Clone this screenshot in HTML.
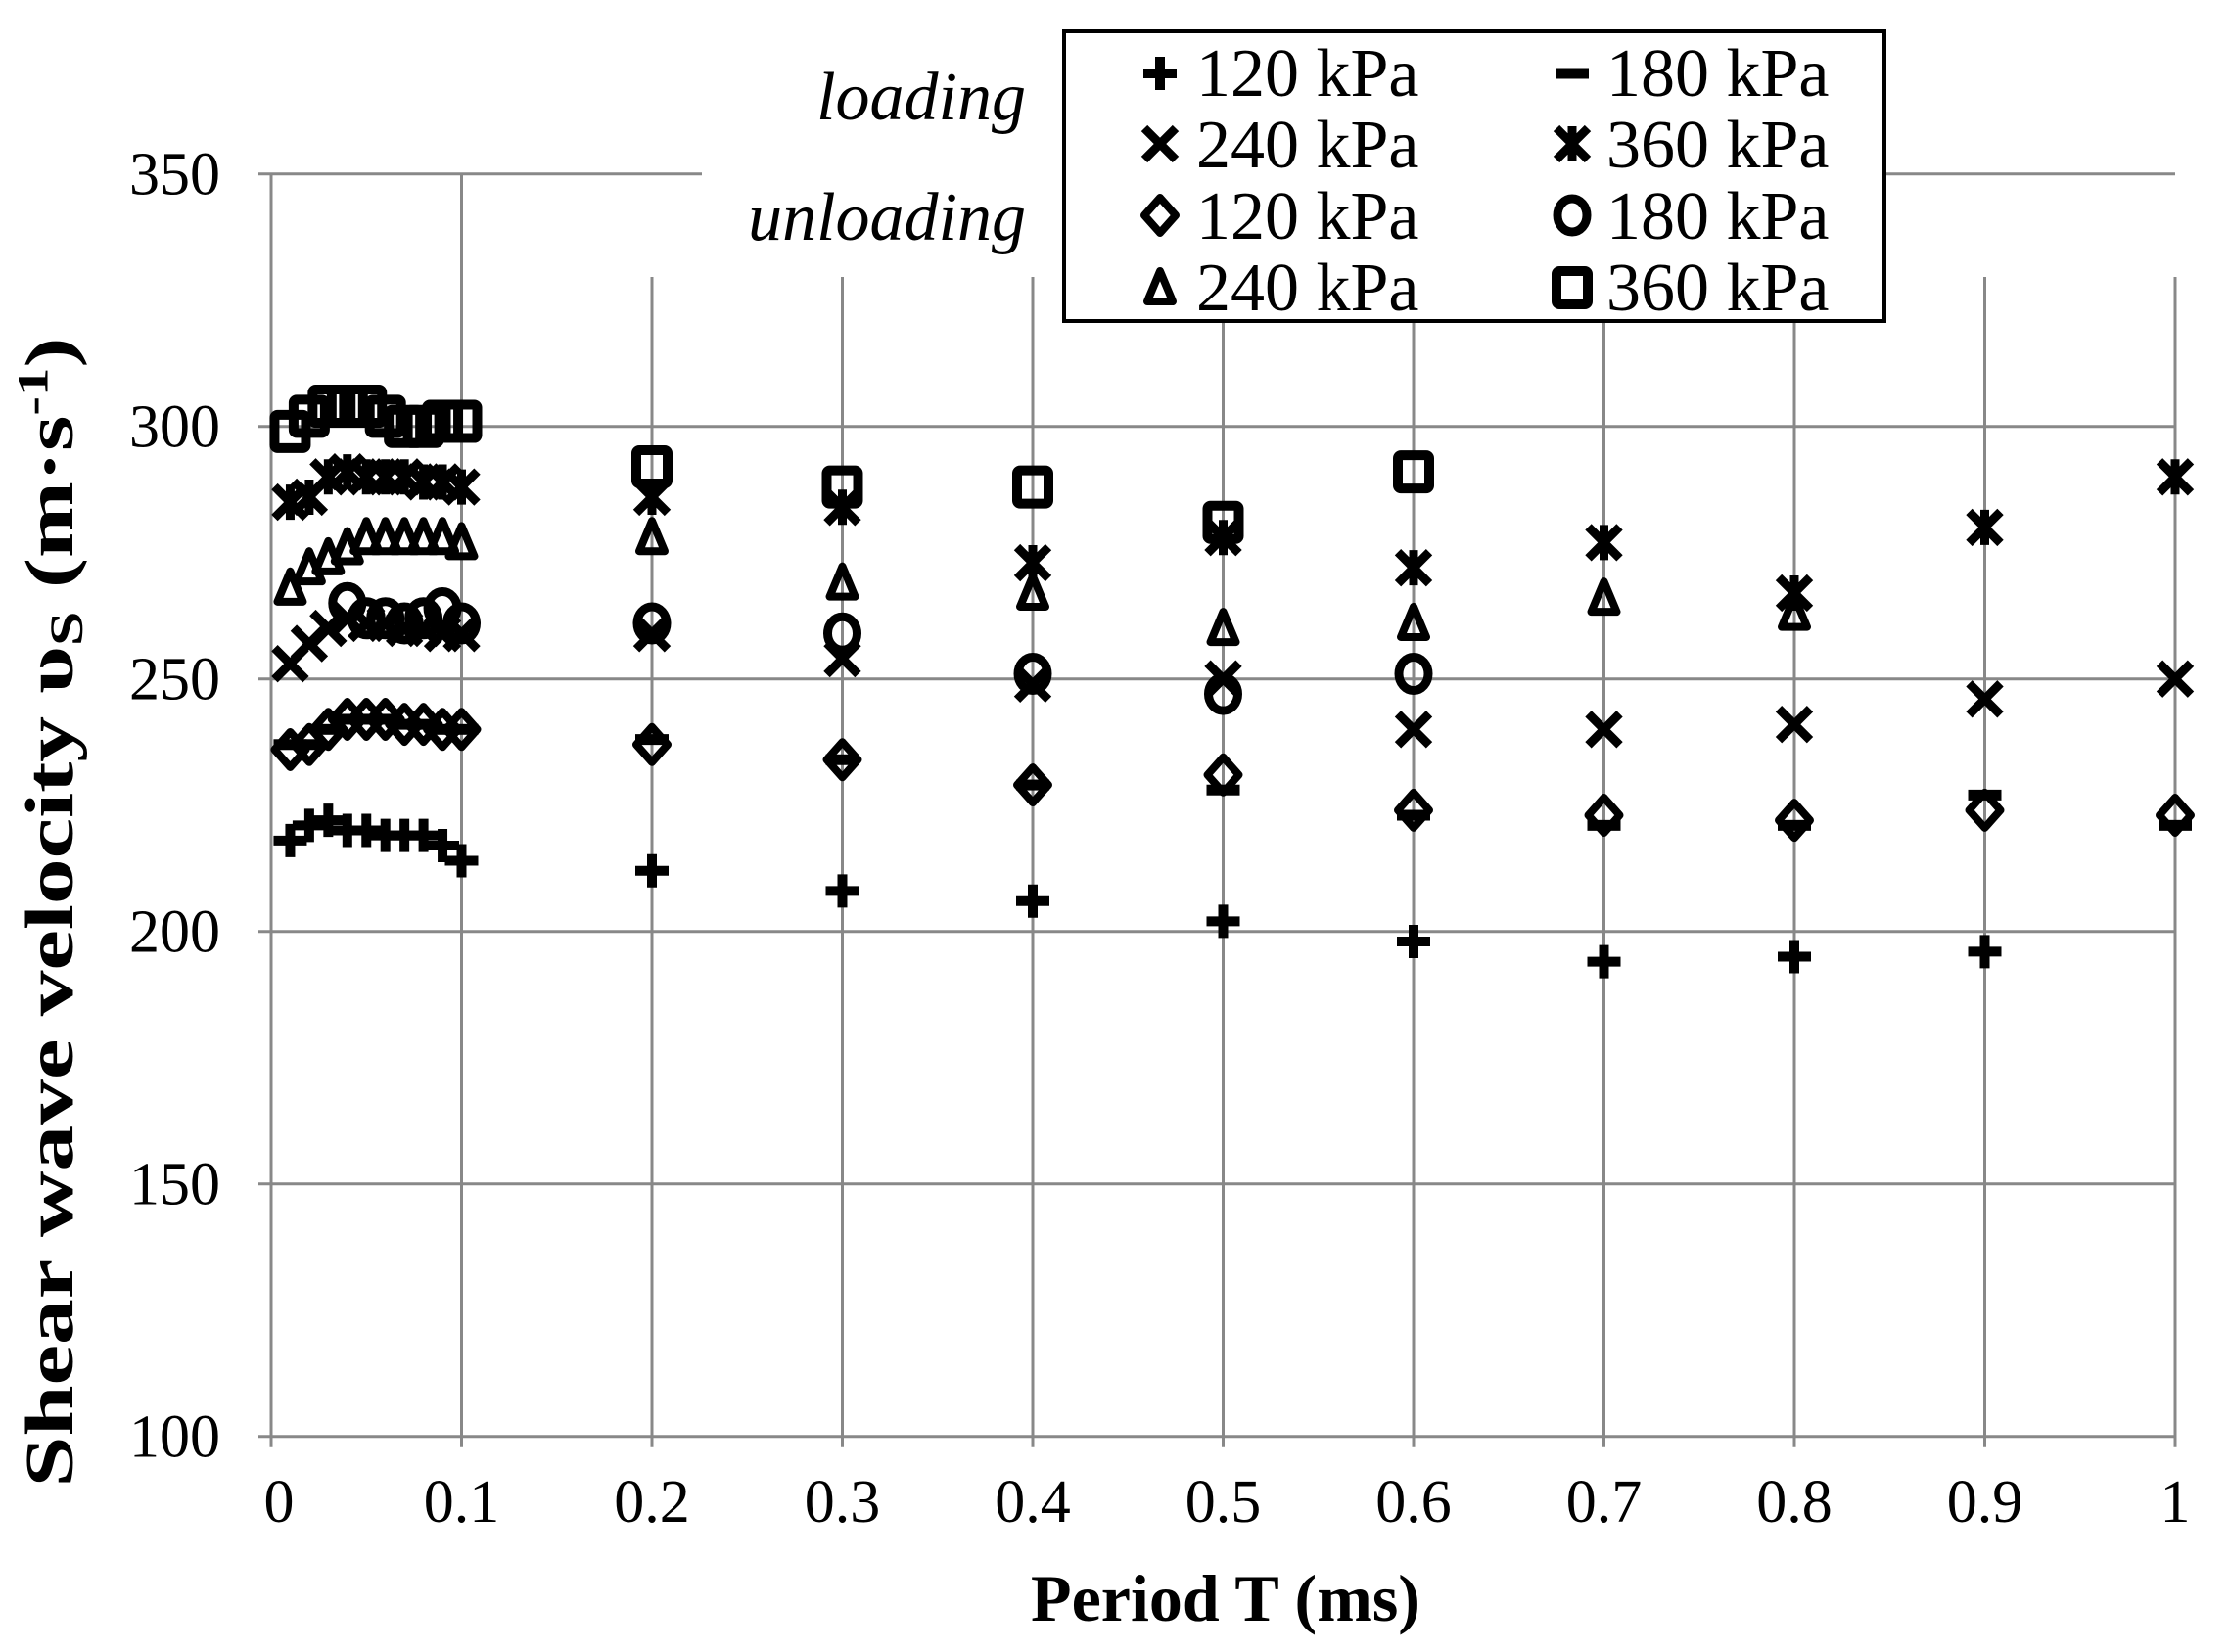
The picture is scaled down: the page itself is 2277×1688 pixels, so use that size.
<!DOCTYPE html>
<html><head><meta charset="utf-8"><style>
html,body{margin:0;padding:0;background:#fff;}
svg{display:block;}
text{font-family:"Liberation Serif",serif;fill:#000;}
</style></head><body>
<svg id="s" width="2277" height="1688" viewBox="0 0 2277 1688" xmlns="http://www.w3.org/2000/svg">
<rect width="2277" height="1688" fill="#fff"/>
<g id="grid" stroke="#888" stroke-width="3" fill="none"></g>
<g id="ticks" font-size="62"></g>
<rect x="717" y="150" width="368" height="133" fill="#fff"/>
<g id="data"></g>
<rect x="1087" y="32" width="838" height="296" fill="#fff" stroke="#000" stroke-width="4"/>
<g id="leg"></g>
<g font-size="70" font-style="italic" text-anchor="end">
<text x="1048" y="122">loading</text>
<text x="1048" y="245">unloading</text>
</g>
<g font-size="70">
<text x="1222" y="98">120 kPa</text>
<text x="1641" y="98">180 kPa</text>
<text x="1222" y="171">240 kPa</text>
<text x="1641" y="171">360 kPa</text>
<text x="1222" y="244">120 kPa</text>
<text x="1641" y="244">180 kPa</text>
<text x="1222" y="317">240 kPa</text>
<text x="1641" y="317">360 kPa</text>
</g>
<text x="1252" y="1656" font-size="68" font-weight="bold" text-anchor="middle">Period T (ms)</text>
<text transform="translate(74,932) rotate(-90)" font-size="70" font-weight="bold" text-anchor="middle" textLength="1175" lengthAdjust="spacingAndGlyphs">Shear wave velocity υ<tspan font-size="48" dy="10">S</tspan><tspan dy="-10"> (m·s</tspan><tspan font-size="44" dy="-26">-1</tspan><tspan dy="26">)</tspan></text>
</svg>
<script>
var NS="http://www.w3.org/2000/svg";
function X(t){return 277+1945*t;}
function Y(v){return 177.7+(350-v)*5.16;}
function el(p,n,a){var e=document.createElementNS(NS,n);for(var k in a)e.setAttribute(k,a[k]);p.appendChild(e);return e;}
var g=document.getElementById('grid'),tk=document.getElementById('ticks');
[350,300,250,200,150,100].forEach(function(v){
 var y=Y(v);
 el(g,'line',{x1:264,y1:y,x2:2222,y2:y});
 var t=el(tk,'text',{x:225,y:y+21,'text-anchor':'end'});t.textContent=v;
});
var xs=[0,0.1,0.2,0.3,0.4,0.5,0.6,0.7,0.8,0.9,1];
xs.forEach(function(t){
 var x=X(t);
 el(g,'line',{x1:x,y1:(t>0.1?283:Y(350)),x2:x,y2:Y(100)+11});
 var tx=el(tk,'text',{x:x+(t==0?8:0),y:1555,'text-anchor':'middle'});tx.textContent=(t==1?'1':(t==0?'0':t.toFixed(1)));
});
var d=document.getElementById('data');
function mk(p,type,x,y){
 if(type=='plus'){el(p,'path',{d:'M'+(x-17)+' '+y+'H'+(x+17)+'M'+x+' '+(y-17)+'V'+(y+17),stroke:'#000','stroke-width':10,fill:'none'});}
 else if(type=='dash'){el(p,'rect',{x:x-17,y:y-5.5,width:34,height:11,fill:'#000'});}
 else if(type=='x'){el(p,'path',{d:'M'+(x-16)+' '+(y-16)+'L'+(x+16)+' '+(y+16)+'M'+(x+16)+' '+(y-16)+'L'+(x-16)+' '+(y+16),stroke:'#000','stroke-width':9,fill:'none'});}
 else if(type=='ast'){el(p,'path',{d:'M'+(x-16)+' '+(y-16)+'L'+(x+16)+' '+(y+16)+'M'+(x+16)+' '+(y-16)+'L'+(x-16)+' '+(y+16)+'M'+x+' '+(y-18)+'V'+(y+18),stroke:'#000','stroke-width':9,fill:'none'});}
 else if(type=='dia'){el(p,'path',{d:'M'+x+' '+(y-18)+'L'+(x+16)+' '+y+'L'+x+' '+(y+18)+'L'+(x-16)+' '+y+'Z',stroke:'#000','stroke-width':8,fill:'none','stroke-linejoin':'round'});}
 else if(type=='circ'){el(p,'ellipse',{cx:x,cy:y,rx:15,ry:17,stroke:'#000','stroke-width':9,fill:'none'});}
 else if(type=='tri'){el(p,'path',{d:'M'+x+' '+(y-17)+'L'+(x+13)+' '+(y+14)+'L'+(x-13)+' '+(y+14)+'Z',stroke:'#000','stroke-width':8,fill:'none','stroke-linejoin':'round'});}
 else if(type=='sq'){el(p,'rect',{x:x-16,y:y-17,width:32,height:34,stroke:'#000','stroke-width':10,fill:'none',rx:3});}
}
var early=[0.01,0.02,0.03,0.04,0.05,0.06,0.07,0.08,0.09,0.1];
var late=[0.2,0.3,0.4,0.5,0.6,0.7,0.8,0.9,1.0];
var S={
 plus:{e:[218,221,222,220,220,219,219,219,217,214],l:[212,208,206,202,198,194,195,196]},
 dash:{e:[237,237,240,242,242,242,241,241,240,240],l:[238,234,229,228,223,221,221,227,221]},
 x:{e:[253,257,260,262,261,261,260,260,259,259],l:[259,254,249,250,240,240,241,246,250]},
 ast:{e:[285,286,290,291,290,290,290,289,289,288],l:[286,284,273,278,272,277,267,280,290]},
 dia:{e:[236,237,240,242,242,242,241,241,240,240],l:[237,234,229,231,224,223,222,224,223]},
 circ:{e:[null,null,null,265,262,262,261,262,264,261],l:[261,259,251,247,251]},
 tri:{e:[268,272,274,276,278,278,278,278,278,277],l:[278,269,267,260,261,266,263]},
 sq:{e:[299,302,304,304,304,302,300,300,301,301],l:[292,288,288,281,291]}
};
var ord=['plus','dash','dia','x','circ','tri','ast','sq'];
ord.forEach(function(k){
 var s=S[k];
 s.e.forEach(function(v,i){if(v!=null)mk(d,k,X(early[i]),Y(v));});
 s.l.forEach(function(v,i){if(v!=null)mk(d,k,X(late[i]),Y(v));});
});
var L=document.getElementById('leg');
[['plus',1185,75],['dash',1606,75],['x',1185,147],['ast',1606,147],['dia',1185,220],['circ',1606,220],['tri',1185,294],['sq',1606,294]].forEach(function(a){mk(L,a[0],a[1],a[2]);});
</script>
</body></html>
